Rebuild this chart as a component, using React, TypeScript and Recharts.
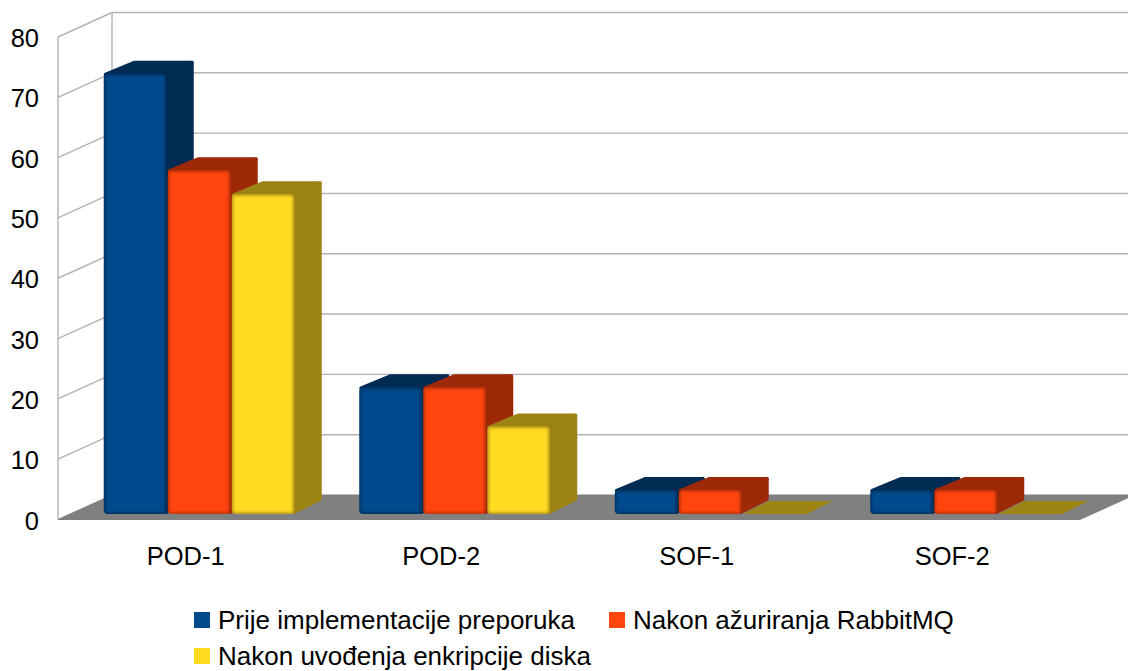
import { BarChart, Bar, XAxis, YAxis, CartesianGrid, Legend } from "recharts"

const categories = ["POD-1", "POD-2", "SOF-1", "SOF-2"]
const prijeImplementacije = [73, 21, 4, 4]
const nakonAzuriranja = [57, 21, 4, 4]
const nakonEnkripcije = [53, 14.5, 0, 0]
const yTicks = [0, 10, 20, 30, 40, 50, 60, 70, 80]

const seriesNames = [
  "Prije implementacije preporuka",
  "Nakon ažuriranja RabbitMQ",
  "Nakon uvođenja enkripcije diska",
]

const chartData = categories.map((name, i) => ({
  name,
  a: prijeImplementacije[i],
  b: nakonAzuriranja[i],
  c: nakonEnkripcije[i],
}))

const FONT = '"Liberation Sans", Arial, sans-serif'
const GRID = "#b3b3b3"
const FLOOR = "#808080"
// wall depth of the fake 3d box
const WALL_X = 54
const WALL_Y = 24.5
// bars stand a bit inside the floor
const BAR_X = 13.75
const BAR_Y = 5.5
const DEPTH_X = 26
const DEPTH_Y = 13

function WallLine(props: any) {
  const { x1, y1, x2, y, height, index } = props
  const isBase = Math.abs(y1 - (y + height)) < 0.5
  return (
    <g key={index}>
      {isBase && (
        <>
          <line x1={x1} y1={y} x2={x1} y2={y1} stroke={GRID} strokeWidth={1.4} />
          <line x1={x1 + WALL_X} y1={y - WALL_Y} x2={x1 + WALL_X} y2={y1 - WALL_Y} stroke={GRID} strokeWidth={1.4} />
          <polygon
            points={`${x1},${y1} ${x1 + WALL_X},${y1 - WALL_Y} ${x2 + WALL_X},${y1 - WALL_Y} ${x2},${y1}`}
            fill={FLOOR}
            stroke={FLOOR}
          />
        </>
      )}
      {!isBase && (
        <>
          <line x1={x1} y1={y1} x2={x1 + WALL_X} y2={y1 - WALL_Y} stroke={GRID} strokeWidth={1.4} />
          <line x1={x1 + WALL_X} y1={y1 - WALL_Y} x2={x2 + WALL_X} y2={y1 - WALL_Y} stroke={GRID} strokeWidth={1.4} />
        </>
      )}
    </g>
  )
}

function makeBar(front: string, edge: string, side: string) {
  return function Bar3d(props: any) {
    const { x, y, width, height } = props
    const l = x + BAR_X
    const t = y - BAR_Y
    const w = width - 1.5
    const r = l + width
    const b = t + height
    // zero value: only a flat plate on the floor
    if (height <= 0) {
      return (
        <polygon
          points={`${l},${t} ${l + DEPTH_X},${t - DEPTH_Y} ${r + DEPTH_X},${t - DEPTH_Y} ${r},${t}`}
          fill={side}
        />
      )
    }
    return (
      <g>
        <polygon
          points={`${l + 2},${t + 1} ${l + DEPTH_X + 5},${t - DEPTH_Y + 2} ${r + DEPTH_X - 2},${t - DEPTH_Y + 2} ${r - 2},${t + 1}`}
          fill={side}
          stroke={side}
          strokeWidth={4}
          strokeLinejoin="round"
        />
        <polygon
          points={`${r - 2},${t + 1} ${r + DEPTH_X - 2},${t - DEPTH_Y + 2} ${r + DEPTH_X - 2},${b - DEPTH_Y - 2} ${r - 2},${b - 2}`}
          fill={side}
          stroke={side}
          strokeWidth={4}
          strokeLinejoin="round"
        />
        <rect x={l} y={t} width={w} height={height} rx={4} fill={edge} />
        <rect x={l + 2} y={t + 2} width={w - 4} height={height - 4} rx={1} fill={front} filter="url(#soft)" />
      </g>
    )
  }
}

const BlueBar = makeBar("#004a8c", "#003567", "#002b53")
const OrangeBar = makeBar("#ff450e", "#c4330b", "#9e2909")
const YellowBar = makeBar("#ffdb20", "#c4a31a", "#9d8314")

function LegendBox({ payload }: any) {
  return (
    <div style={{ display: "flex", flexWrap: "wrap", width: 800, columnGap: 34, fontFamily: FONT, fontSize: 26, color: "#000" }}>
      {(payload || []).map((item: any) => (
        <div key={item.value} style={{ display: "flex", alignItems: "center", height: 36 }}>
          <span style={{ width: 16, height: 16, background: item.color, marginRight: 8, display: "inline-block" }} />
          <span>{item.value}</span>
        </div>
      ))}
    </div>
  )
}

export default function App() {
  return (
    <div style={{ position: "absolute", left: 0, top: 0, width: 1128, height: 671, background: "#fff" }}>
      <BarChart
        width={1128}
        height={671}
        data={chartData}
        barSize={64}
        barGap={0}
        margin={{ top: 37, right: 48, bottom: 111.5, left: 0 }}
      >
        <defs>
          <filter id="soft" x="-10%" y="-10%" width="120%" height="120%">
            <feGaussianBlur stdDeviation="1" />
          </filter>
        </defs>
        <CartesianGrid vertical={false} horizontal={WallLine} syncWithTicks />
        <XAxis
          dataKey="name"
          height={40}
          axisLine={false}
          tickLine={false}
          tickMargin={21}
          tick={{ fontFamily: FONT, fontSize: 25.5, fill: "#000" }}
        />
        <YAxis
          width={58}
          domain={[0, 80]}
          ticks={yTicks}
          interval={0}
          axisLine={false}
          tickLine={false}
          tickMargin={13}
          tick={{ fontFamily: FONT, fontSize: 25.5, fill: "#000", dy: 1 }}
        />
        <Legend
          layout="vertical"
          align="center"
          verticalAlign="middle"
          itemSorter={null}
          content={LegendBox}
          wrapperStyle={{ position: "absolute", left: 194, top: 602, width: 800 }}
        />
        <Bar dataKey="a" name={seriesNames[0]} fill="#004a8c" shape={BlueBar} isAnimationActive={false} />
        <Bar dataKey="b" name={seriesNames[1]} fill="#ff450e" shape={OrangeBar} isAnimationActive={false} />
        <Bar dataKey="c" name={seriesNames[2]} fill="#ffdb20" shape={YellowBar} isAnimationActive={false} />
      </BarChart>
    </div>
  )
}
